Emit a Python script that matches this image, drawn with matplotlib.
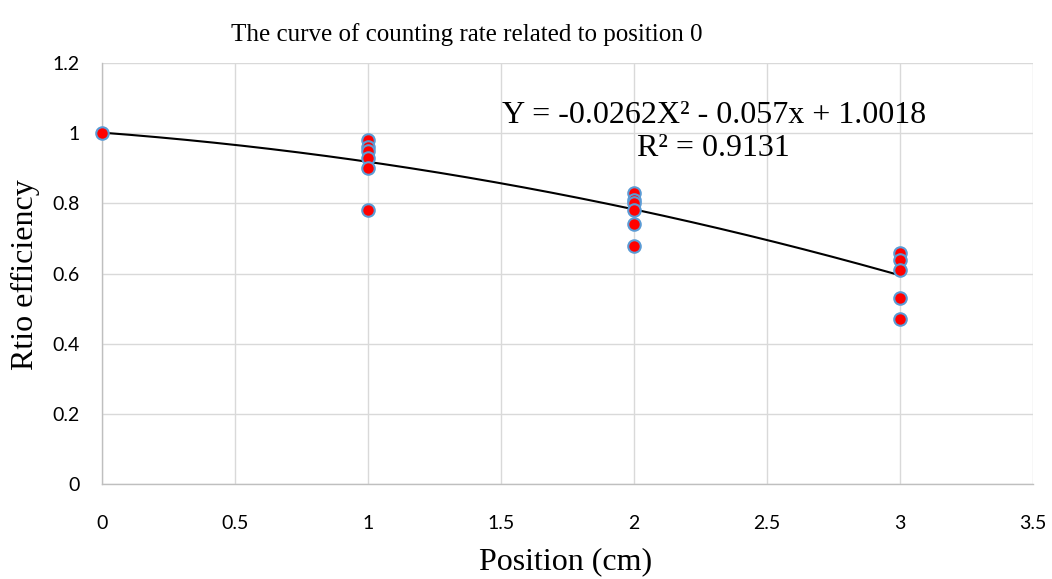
import matplotlib
matplotlib.use("Agg")
import matplotlib.pyplot as plt
import numpy as np

# Data
pos_x = [0, 1, 1, 1, 1, 1, 1, 2, 2, 2, 2, 2, 2, 3, 3, 3, 3, 3]
ratio_y = [1.00, 0.98, 0.96, 0.95, 0.93, 0.90, 0.78,
           0.83, 0.81, 0.80, 0.78, 0.74, 0.68,
           0.66, 0.64, 0.61, 0.53, 0.47]
fit_coef = [-0.0262, -0.057, 1.0018]  # Y = a X^2 + b x + c
x_ticks = [0, 0.5, 1, 1.5, 2, 2.5, 3, 3.5]
y_ticks = [0, 0.2, 0.4, 0.6, 0.8, 1.0, 1.2]
x_tick_labels = ["0", "0.5", "1", "1.5", "2", "2.5", "3", "3.5"]
y_tick_labels = ["0", "0.2", "0.4", "0.6", "0.8", "1", "1.2"]

fig = plt.figure(figsize=(10.52, 5.79), dpi=100)
ax = fig.add_axes([0.097, 0.164, 0.885, 0.727])

ax.set_xlim(0, 3.5)
ax.set_ylim(0, 1.2)
ax.set_xticks(x_ticks)
ax.set_yticks(y_ticks)
ax.set_xticklabels(x_tick_labels, fontsize=14, family="Lato")
ax.set_yticklabels(y_tick_labels, fontsize=14, family="Lato")
ax.tick_params(axis="x", length=0, pad=22, colors="#000000")
ax.tick_params(axis="y", length=0, pad=16, colors="#000000")
ax.grid(True, color="#d9d9d9", linewidth=1.0)
ax.set_axisbelow(True)
for s in ["top", "right"]:
    ax.spines[s].set_visible(False)
for s in ["left", "bottom"]:
    ax.spines[s].set_color("#bfbfbf")
    ax.spines[s].set_linewidth(1.0)

xs = np.linspace(0, 3, 200)
ax.plot(xs, np.polyval(fit_coef, xs), color="black", linewidth=1.5, zorder=2)

ax.plot(pos_x, ratio_y, linestyle="none", marker="o", markersize=9,
        markerfacecolor="red", markeredgecolor="#5b9bd5", markeredgewidth=1.5,
        zorder=3, clip_on=False)

ax.text(2.30, 1.051, "Y = -0.0262X² - 0.057x + 1.0018", fontsize=23,
        family="Liberation Serif", ha="center", va="center")
ax.text(2.30, 0.957, "R² = 0.9131", fontsize=23,
        family="Liberation Serif", ha="center", va="center")

fig.text(0.444, 0.94, "The curve of counting rate related to position 0",
         fontsize=18, family="Liberation Serif", ha="center", va="center")
fig.text(566 / 1052, 1 - 562 / 579, "Position (cm)", fontsize=23,
         family="Liberation Serif", ha="center", va="center")
fig.text(25 / 1052, 1 - 275 / 579, "Rtio efficiency", fontsize=23,
         family="Liberation Serif", ha="center", va="center", rotation=90)

fig.savefig("out.png", dpi=100)
